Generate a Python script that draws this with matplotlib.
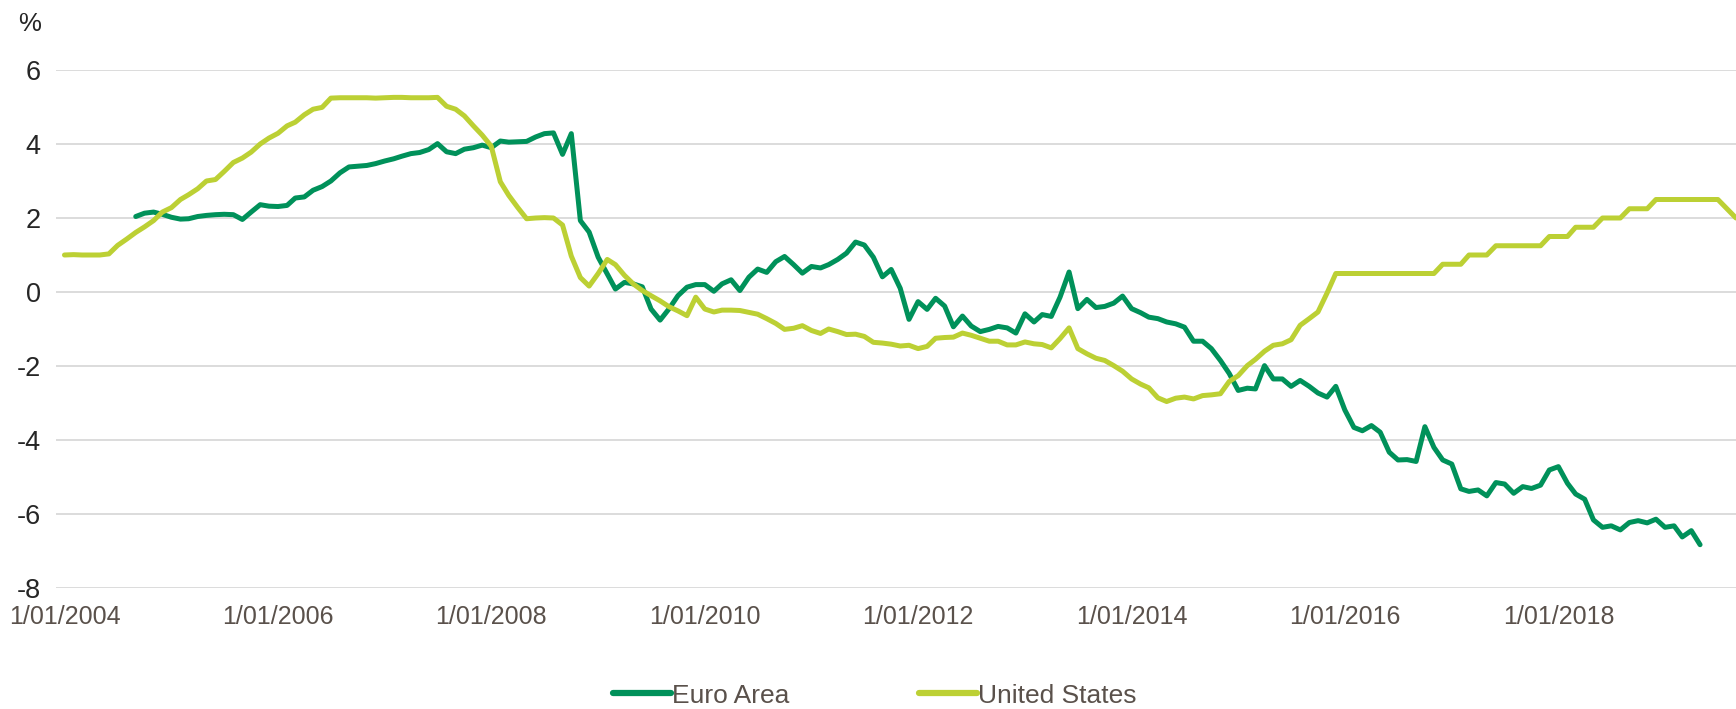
"""Euro Area vs United States policy / shadow rates, monthly."""
import matplotlib

matplotlib.use("Agg")
import matplotlib.dates as mdates
import matplotlib.pyplot as plt
import pandas as pd
from matplotlib.ticker import FuncFormatter

US_START = "2004-01-01"
EURO_START = "2004-09-01"

us_rate = [
    1.00, 1.01, 1.00, 1.00, 1.00, 1.03, 1.26, 1.43, 1.61, 1.76,
    1.93, 2.16, 2.28, 2.50, 2.63, 2.79, 3.00, 3.04, 3.26, 3.50,
    3.62, 3.78, 4.00, 4.16, 4.29, 4.49, 4.59, 4.79, 4.94, 4.99,
    5.24, 5.25, 5.25, 5.25, 5.25, 5.24, 5.25, 5.26, 5.26, 5.25,
    5.25, 5.25, 5.26, 5.02, 4.94, 4.76, 4.49, 4.24, 3.94, 2.98,
    2.61, 2.28, 1.98, 2.00, 2.01, 2.00, 1.81, 0.97, 0.39, 0.16,
    0.50, 0.88, 0.74, 0.45, 0.22, 0.04, -0.10, -0.24, -0.40, -0.51,
    -0.64, -0.14, -0.46, -0.54, -0.49, -0.49, -0.50, -0.55, -0.60, -0.72,
    -0.85, -1.01, -0.98, -0.91, -1.04, -1.12, -1.00, -1.07, -1.15, -1.14,
    -1.20, -1.36, -1.38, -1.41, -1.46, -1.44, -1.53, -1.47, -1.25, -1.23,
    -1.22, -1.11, -1.17, -1.25, -1.33, -1.33, -1.43, -1.43, -1.35, -1.40,
    -1.42, -1.51, -1.26, -0.97, -1.53, -1.67, -1.79, -1.85, -1.99, -2.14,
    -2.35, -2.49, -2.59, -2.86, -2.96, -2.87, -2.84, -2.89, -2.80, -2.78,
    -2.75, -2.42, -2.26, -1.99, -1.82, -1.60, -1.44, -1.40, -1.29, -0.90,
    -0.72, -0.54, -0.03, 0.50, 0.50, 0.50, 0.50, 0.50, 0.50, 0.50,
    0.50, 0.50, 0.50, 0.50, 0.50, 0.75, 0.75, 0.75, 1.00, 1.00,
    1.00, 1.25, 1.25, 1.25, 1.25, 1.25, 1.25, 1.50, 1.50, 1.50,
    1.75, 1.75, 1.75, 2.00, 2.00, 2.00, 2.25, 2.25, 2.25, 2.50,
    2.50, 2.50, 2.50, 2.50, 2.50, 2.50, 2.50, 2.25, 2.00,
]

euro_rate = [
    2.04, 2.13, 2.16, 2.10, 2.02, 1.97, 1.98, 2.04, 2.07, 2.09,
    2.10, 2.09, 1.96, 2.16, 2.36, 2.32, 2.31, 2.34, 2.54, 2.57,
    2.75, 2.85, 3.00, 3.22, 3.38, 3.40, 3.42, 3.47, 3.54, 3.60,
    3.67, 3.74, 3.77, 3.85, 4.01, 3.79, 3.74, 3.86, 3.90, 3.97,
    3.90, 4.08, 4.05, 4.06, 4.07, 4.19, 4.28, 4.30, 3.72, 4.28,
    1.93, 1.62, 0.94, 0.49, 0.08, 0.26, 0.22, 0.14, -0.46, -0.76,
    -0.45, -0.10, 0.13, 0.20, 0.20, 0.02, 0.22, 0.33, 0.04, 0.40,
    0.62, 0.53, 0.82, 0.96, 0.74, 0.51, 0.69, 0.65, 0.74, 0.88,
    1.05, 1.35, 1.27, 0.94, 0.41, 0.61, 0.10, -0.74, -0.26, -0.47,
    -0.17, -0.38, -0.94, -0.65, -0.92, -1.07, -1.01, -0.93, -0.97, -1.11,
    -0.59, -0.81, -0.61, -0.66, -0.14, 0.54, -0.45, -0.20, -0.42, -0.39,
    -0.30, -0.11, -0.45, -0.56, -0.68, -0.72, -0.81, -0.86, -0.95, -1.33,
    -1.33, -1.53, -1.85, -2.20, -2.66, -2.60, -2.62, -1.99, -2.35, -2.35,
    -2.55, -2.39, -2.55, -2.73, -2.84, -2.55, -3.19, -3.66, -3.75, -3.61,
    -3.79, -4.33, -4.54, -4.53, -4.58, -3.64, -4.20, -4.54, -4.65, -5.32,
    -5.39, -5.35, -5.51, -5.15, -5.19, -5.44, -5.26, -5.31, -5.22, -4.81,
    -4.72, -5.17, -5.46, -5.60, -6.16, -6.36, -6.32, -6.43, -6.23, -6.18,
    -6.24, -6.14, -6.36, -6.32, -6.62, -6.45, -6.83,
]

series_labels = ["Euro Area", "United States"]
y_ticks = [-8, -6, -4, -2, 0, 2, 4, 6]

EURO_COLOR = "#00915a"
US_COLOR = "#bcd034"
GRID_COLOR = "#d9d9d9"
XLABEL_COLOR = "#5a514b"
YLABEL_COLOR = "#262626"

plt.rcParams["font.family"] = ["Liberation Sans", "DejaVu Sans"]
plt.rcParams["axes.unicode_minus"] = False


def date_label(value, _pos):
    d = mdates.num2date(value)
    return f"{d.day}/{d.month:02d}/{d.year}"


def main() -> None:
    us_dates = pd.date_range(US_START, periods=len(us_rate), freq="MS")
    euro_dates = pd.date_range(EURO_START, periods=len(euro_rate), freq="MS")

    fig = plt.figure(figsize=(17.36, 7.09), dpi=100)
    ax = fig.add_axes([56 / 1736, 1 - 588 / 709, 1 - 56 / 1736, (588 - 70) / 709])

    line_kw = dict(linewidth=3.6, solid_joinstyle="round", solid_capstyle="round")
    ax.plot(euro_dates, euro_rate, color=EURO_COLOR, label=series_labels[0], **line_kw)
    ax.plot(us_dates, us_rate, color=US_COLOR, label=series_labels[1], **line_kw)

    ax.set_ylim(-8, 6)
    ax.set_yticks(y_ticks)
    ax.set_xlim(pd.Timestamp("2003-12-03"), pd.Timestamp("2019-09-01"))
    ax.xaxis.set_major_locator(mdates.YearLocator(2))
    ax.xaxis.set_major_formatter(FuncFormatter(date_label))

    ax.grid(axis="y", color=GRID_COLOR, linewidth=1.3)
    ax.set_axisbelow(True)
    for spine in ax.spines.values():
        spine.set_visible(False)
    ax.tick_params(axis="y", length=0, pad=11, labelsize=19.5, labelcolor=YLABEL_COLOR)
    ax.tick_params(axis="x", length=0, pad=12, labelsize=18, labelcolor=XLABEL_COLOR)

    fig.text(30 / 1736, 1 - 24 / 709, "%", ha="center", va="center",
             fontsize=18.5, color=YLABEL_COLOR)

    leg = ax.legend(loc="center", bbox_to_anchor=(0.504, 0.019),
                    bbox_transform=fig.transFigure, ncol=2, frameon=False,
                    fontsize=19, handlelength=2.2, handletextpad=0.05,
                    columnspacing=4.9)
    for text in leg.get_texts():
        text.set_color(XLABEL_COLOR)
    for handle in leg.get_lines():
        handle.set_linewidth(4.5)
        handle.set_solid_capstyle("round")

    fig.savefig("out.png", dpi=100)
    plt.close(fig)


if __name__ == "__main__":
    main()
